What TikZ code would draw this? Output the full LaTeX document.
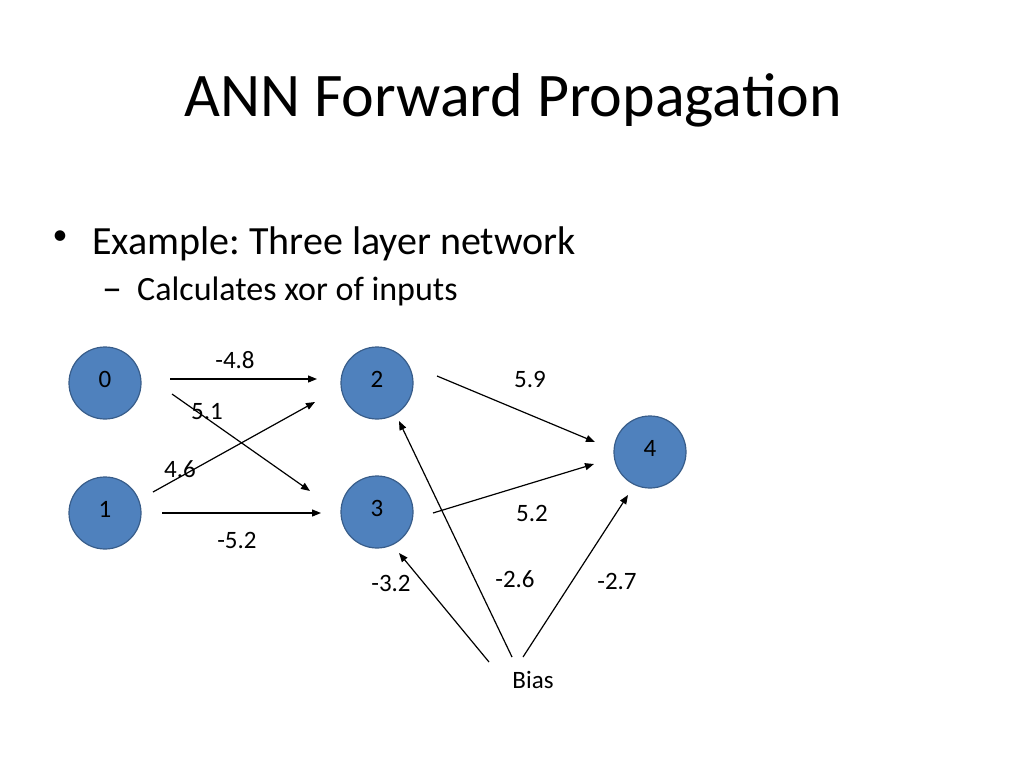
\documentclass[tikz,border=0pt]{standalone}
\usepackage{fontspec}
\setmainfont{Carlito}
\frenchspacing
\usetikzlibrary{arrows.meta}
\definecolor{nodefill}{HTML}{4F81BD}
\definecolor{nodeedge}{HTML}{385D8A}
\tikzset{
  neuron/.style={circle, draw=nodeedge, line width=1.2pt, fill=nodefill, minimum size=72pt, inner sep=0pt},
  nlabel/.style={font=\fontsize{25}{30}\selectfont, text=black},
  wlabel/.style={font=\fontsize{25}{30}\selectfont, inner sep=0pt},
  wire/.style={line width=1.2pt, -{Triangle[length=9pt,width=7pt]}},
  textline/.style={anchor=base west, inner sep=0pt}
}
\begin{document}
\begin{tikzpicture}[x=1pt,y=-1pt]
\useasboundingbox (0,0) rectangle (1024,768);
\fill[white] (0,0) rectangle (1024,768);
% title and bullets
\node[anchor=base, inner sep=0pt, font=\fontsize{62}{70}\selectfont] (title) at (513,116) {ANN Forward Propagation};
\node[inner sep=0pt, font=\fontsize{30}{34}\selectfont] (b1) at (60,238) {•};
\node[textline, font=\fontsize{40}{48}\selectfont] (t1) at (92,254) {Example: Three layer network};
\node[textline, font=\fontsize{40}{44}\selectfont] (b2) at (102,301) {–};
\node[textline, font=\fontsize{34}{40}\selectfont] (t2) at (137,300) {Calculates xor of inputs};
% neurons
\node[neuron] (n0) at (105,383) {};
\node[neuron] (n1) at (105,513) {};
\node[neuron] (n2) at (377,383) {};
\node[neuron] (n3) at (377,512) {};
\node[neuron] (n4) at (650,452) {};
\node[nlabel] (l0) at (105,379) {0};
\node[nlabel] (l1) at (105,509) {1};
\node[nlabel] (l2) at (377,379) {2};
\node[nlabel] (l3) at (377,508) {3};
\node[nlabel] (l4) at (650,448) {4};
\node[wlabel] (bias) at (533,680) {Bias};
% arrow endpoints
\coordinate (a02s) at (170,379); \coordinate (a02e) at (317,379);
\coordinate (a03s) at (172,394); \coordinate (a03e) at (310,491);
\coordinate (a12s) at (153,492); \coordinate (a12e) at (315,402);
\coordinate (a13s) at (162,513); \coordinate (a13e) at (321,513);
\coordinate (a24s) at (437,376); \coordinate (a24e) at (595,442);
\coordinate (a34s) at (433,513); \coordinate (a34e) at (594,464);
\coordinate (ab3s) at (489,662); \coordinate (ab3e) at (399,553);
\coordinate (ab2s) at (512,657); \coordinate (ab2e) at (399,421);
\coordinate (ab4s) at (523,657); \coordinate (ab4e) at (628,495);
\draw[wire] (a02s) -- (a02e);
\draw[wire] (a03s) -- (a03e);
\draw[wire] (a12s) -- (a12e);
\draw[wire] (a13s) -- (a13e);
\draw[wire] (a24s) -- (a24e);
\draw[wire] (a34s) -- (a34e);
\draw[wire] (ab3s) -- (ab3e);
\draw[wire] (ab2s) -- (ab2e);
\draw[wire] (ab4s) -- (ab4e);
% weights
\node[wlabel] (w02) at (235,360) {-4.8};
\node[wlabel] (w03) at (207,412) {5.1};
\node[wlabel] (w12) at (180,469) {4.6};
\node[wlabel] (w13) at (237,540) {-5.2};
\node[wlabel] (w24) at (530,379) {5.9};
\node[wlabel] (w34) at (532,513) {5.2};
\node[wlabel] (wb3) at (391,583) {-3.2};
\node[wlabel] (wb2) at (515,579) {-2.6};
\node[wlabel] (wb4) at (617,581) {-2.7};
\end{tikzpicture}
\end{document}
